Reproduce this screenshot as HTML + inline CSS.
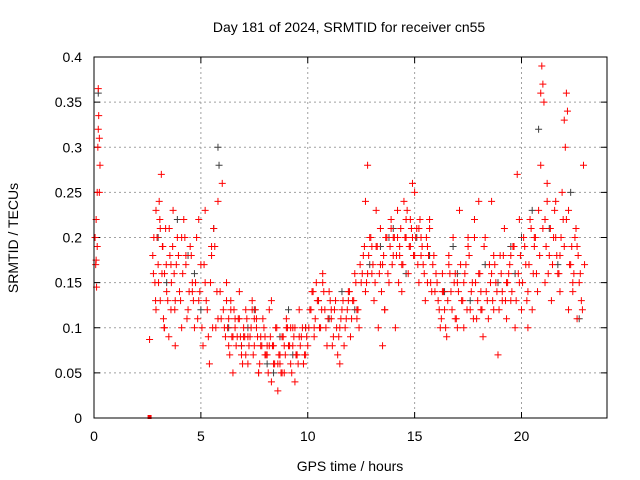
<!DOCTYPE html>
<html><head><meta charset="utf-8">
<style>
body{margin:0;background:#fff;}
svg{display:block;font-family:"Liberation Sans",sans-serif;}
</style></head>
<body>
<svg id="chart" width="640" height="480" viewBox="0 0 640 480">
<text x="349" y="32" text-anchor="middle" font-size="14">Day 181 of 2024, SRMTID for receiver cn55</text>
<text x="350" y="471" text-anchor="middle" font-size="14">GPS time / hours</text>
<text transform="translate(18,238) rotate(-90)" text-anchor="middle" font-size="14">SRMTID / TECUs</text>
<g id="grid"></g>
<g id="axes"></g>
<g id="black"></g>
<g id="red"></g>
<rect x="94" y="57" width="513" height="361" fill="none" stroke="#000" stroke-width="1"/>
</svg>
<script>
const xTicks=[0,5,10,15,20];
const yTicks=[0,0.05,0.1,0.15,0.2,0.25,0.3,0.35,0.4];
const yTickLabels=["0","0.05","0.1","0.15","0.2","0.25","0.3","0.35","0.4"];
const redT=[0.05,0.08,0.1,0.12,0.15,0.18,0.2,0.22,0.25,0.28,0.1,0.15,0.2,0.25,2.6,
2.75,2.8,2.85,2.9,3.0,3.05,3.1,3.15,3.2,3.25,3.3,3.35,3.4,3.5,3.55,3.6,3.7,3.75,3.8,3.9,4.0,4.1,4.2,4.3,4.4,4.5,4.6,4.7,4.8,4.9,5.0,5.1,5.2,5.3,5.4,5.5,5.6,5.7,5.8,5.9,6.0,2.9,3.1,3.3,3.6,3.8,4.1,4.3,4.6,4.9,5.2,5.5,5.8,
6.1,6.2,6.3,6.4,6.5,6.6,6.7,6.8,6.9,7.0,7.1,7.2,7.3,7.4,7.5,7.6,7.7,7.8,7.9,8.0,8.1,8.2,8.3,8.4,8.5,8.6,8.7,8.8,8.9,9.0,9.1,9.2,9.3,9.4,9.5,9.6,9.7,9.8,9.9,10.0,6.2,6.5,6.8,7.1,7.4,7.7,8.0,8.3,8.6,8.9,9.2,9.5,9.8,6.4,7.0,7.6,8.2,8.8,9.4,
10.1,10.2,10.3,10.4,10.5,10.6,10.7,10.8,10.9,11.0,11.1,11.2,11.3,11.4,11.5,11.6,11.7,11.8,11.9,12.0,12.1,12.2,12.3,12.4,12.5,10.3,10.7,11.1,11.5,11.9,12.3,
12.6,12.7,12.8,12.9,13.0,13.1,13.2,13.3,13.4,13.5,13.6,13.7,13.8,13.9,14.0,14.1,14.2,14.3,14.4,14.5,14.6,14.7,14.8,14.9,15.0,15.1,15.2,15.3,15.4,15.5,15.6,15.7,15.8,15.9,16.0,12.8,13.2,13.6,14.0,14.4,14.8,15.2,15.6,12.7,13.5,14.3,15.0,
16.1,16.2,16.3,16.4,16.5,16.6,16.7,16.8,16.9,17.0,17.1,17.2,17.3,17.4,17.5,17.6,17.7,17.8,17.9,18.0,18.1,18.2,18.3,18.4,18.5,18.6,18.7,18.8,18.9,19.0,19.1,19.2,19.3,19.4,19.5,19.6,19.7,19.8,19.9,20.0,16.3,16.9,17.5,18.1,18.7,19.3,19.9,17.0,18.0,19.1,
20.1,20.2,20.3,20.4,20.5,20.6,20.7,20.8,20.9,21.0,21.1,21.2,21.3,21.4,21.5,21.6,21.7,21.8,21.9,22.0,22.1,22.2,22.3,22.4,22.5,22.6,22.7,22.8,22.9,20.9,20.95,21.0,21.05,22.0,22.05,22.1,22.15,20.3,21.2,21.8,22.4,22.85];
const redV=[0.2,0.17,0.22,0.145,0.25,0.3,0.365,0.335,0.31,0.28,0.175,0.19,0.32,0.25,0.087,
0.18,0.2,0.15,0.23,0.17,0.24,0.13,0.27,0.19,0.11,0.16,0.21,0.14,0.09,0.18,0.12,0.23,0.16,0.08,0.2,0.14,0.1,0.22,0.17,0.12,0.19,0.15,0.1,0.2,0.13,0.17,0.08,0.23,0.12,0.06,0.18,0.21,0.1,0.24,0.14,0.26,0.12,0.21,0.1,0.17,0.13,0.2,0.18,0.14,0.22,0.15,0.19,0.11,
0.1,0.13,0.08,0.12,0.05,0.11,0.09,0.14,0.07,0.1,0.12,0.06,0.09,0.13,0.08,0.1,0.05,0.09,0.11,0.07,0.08,0.12,0.04,0.06,0.1,0.03,0.07,0.09,0.05,0.11,0.08,0.06,0.1,0.04,0.07,0.12,0.09,0.06,0.1,0.08,0.15,0.09,0.11,0.07,0.12,0.05,0.09,0.13,0.06,0.08,0.1,0.07,0.06,0.13,0.09,0.11,0.08,0.05,0.1,
0.12,0.14,0.09,0.15,0.13,0.1,0.16,0.12,0.08,0.14,0.11,0.09,0.13,0.07,0.1,0.12,0.08,0.11,0.14,0.09,0.13,0.16,0.12,0.1,0.15,0.1,0.15,0.12,0.06,0.13,0.11,
0.18,0.14,0.28,0.2,0.16,0.13,0.19,0.1,0.21,0.17,0.12,0.2,0.15,0.22,0.18,0.1,0.23,0.19,0.14,0.24,0.2,0.16,0.22,0.26,0.18,0.21,0.15,0.2,0.17,0.13,0.19,0.22,0.14,0.18,0.16,0.16,0.23,0.12,0.2,0.17,0.19,0.21,0.15,0.24,0.08,0.18,0.25,
0.13,0.1,0.16,0.12,0.09,0.18,0.14,0.2,0.11,0.15,0.23,0.13,0.1,0.17,0.19,0.12,0.15,0.22,0.11,0.16,0.14,0.09,0.2,0.13,0.17,0.24,0.12,0.15,0.07,0.18,0.14,0.21,0.11,0.16,0.13,0.19,0.1,0.27,0.15,0.12,0.14,0.16,0.2,0.12,0.18,0.15,0.22,0.1,0.24,0.13,
0.2,0.17,0.14,0.22,0.12,0.19,0.16,0.23,0.28,0.21,0.15,0.26,0.18,0.13,0.2,0.24,0.16,0.14,0.25,0.19,0.22,0.12,0.17,0.14,0.2,0.11,0.15,0.13,0.28,0.36,0.39,0.37,0.35,0.33,0.3,0.36,0.34,0.1,0.24,0.18,0.15,0.12];
const redT2=[2.78,2.88,2.95,3.02,3.08,3.18,3.22,3.28,3.38,3.45,3.52,3.62,3.68,3.78,3.85,3.95,4.05,4.15,4.25,4.35,4.45,4.55,4.65,4.75,4.85,4.95,5.05,5.15,5.25,5.35,5.45,5.55,5.65,5.75,5.95,
6.05,6.15,6.25,6.35,6.45,6.55,6.65,6.75,6.85,6.95,7.05,7.15,7.25,7.35,7.45,7.55,7.65,7.75,7.85,7.95,8.05,8.15,8.25,8.35,8.45,8.55,8.65,8.75,8.85,8.95,9.05,9.15,9.25,9.35,9.45,9.55,9.65,9.75,9.85,9.95,
6.3,6.6,6.9,7.2,7.5,7.8,8.1,8.4,8.7,9.0,9.3,9.6,9.9,
10.05,10.15,10.25,10.35,10.45,10.55,10.65,10.75,10.85,10.95,11.05,11.15,11.25,11.35,11.45,11.55,11.65,11.75,11.85,11.95,12.05,12.15,12.25,12.35,12.45,
12.55,12.65,12.75,12.85,12.95,13.05,13.15,13.25,13.35,13.45,13.55,13.65,13.75,13.85,13.95,14.05,14.15,14.25,14.35,14.45,14.55,14.65,14.75,14.85,14.95,15.05,15.15,15.25,15.35,15.45,15.55,15.65,15.75,15.85,15.95,
16.05,16.15,16.25,16.35,16.45,16.55,16.65,16.75,16.85,16.95,17.05,17.15,17.25,17.35,17.45,17.55,17.65,17.75,17.85,17.95,18.05,18.15,18.25,18.35,18.45,18.55,18.65,18.75,18.85,18.95,19.05,19.15,19.25,19.35,19.45,19.55,19.65,19.75,19.85,19.95,
20.05,20.15,20.25,20.35,20.45,20.55,20.65,20.75,20.85,21.15,21.25,21.35,21.45,21.55,21.65,21.75,21.85,21.95,22.25,22.35,22.45,22.55,22.65,22.75,22.95,
13.0,13.4,13.9,14.2,14.6,14.9,15.3,15.7,16.6,17.3,17.8,18.6,19.5,20.6,21.1,21.6,22.2,22.6];
const redV2=[0.16,0.13,0.2,0.15,0.22,0.16,0.19,0.1,0.17,0.13,0.21,0.15,0.19,0.12,0.17,0.18,0.13,0.16,0.2,0.11,0.14,0.18,0.13,0.15,0.11,0.14,0.1,0.17,0.13,0.09,0.15,0.1,0.19,0.14,0.11,
0.12,0.09,0.1,0.07,0.09,0.12,0.08,0.11,0.09,0.06,0.09,0.11,0.08,0.1,0.07,0.12,0.09,0.06,0.08,0.1,0.07,0.05,0.09,0.08,0.06,0.1,0.07,0.05,0.09,0.07,0.1,0.08,0.05,0.09,0.07,0.06,0.08,0.1,0.07,0.09,
0.11,0.1,0.08,0.09,0.11,0.08,0.07,0.08,0.06,0.1,0.08,0.09,0.07,
0.1,0.12,0.14,0.11,0.13,0.1,0.12,0.14,0.1,0.11,0.13,0.08,0.12,0.1,0.09,0.11,0.13,0.1,0.12,0.14,0.11,0.13,0.15,0.12,0.17,
0.16,0.19,0.15,0.18,0.2,0.17,0.15,0.19,0.16,0.14,0.18,0.2,0.16,0.19,0.17,0.2,0.18,0.15,0.21,0.17,0.2,0.23,0.19,0.21,0.18,0.2,0.17,0.22,0.19,0.16,0.2,0.18,0.15,0.17,0.14,
0.15,0.12,0.11,0.14,0.1,0.13,0.16,0.12,0.15,0.11,0.14,0.17,0.13,0.16,0.12,0.18,0.14,0.11,0.15,0.13,0.16,0.12,0.19,0.14,0.11,0.15,0.13,0.17,0.14,0.12,0.16,0.18,0.13,0.15,0.17,0.14,0.19,0.13,0.16,0.18,
0.15,0.19,0.13,0.17,0.21,0.16,0.2,0.14,0.18,0.19,0.16,0.21,0.17,0.23,0.18,0.16,0.2,0.22,0.17,0.19,0.16,0.21,0.18,0.16,0.17,
0.19,0.17,0.21,0.2,0.22,0.2,0.18,0.21,0.17,0.15,0.2,0.16,0.18,0.2,0.22,0.2,0.23,0.19];
const blackT=[0.2,3.0,3.4,3.9,4.4,5.0,5.6,5.8,5.85,6.3,6.9,7.5,8.1,8.7,9.3,9.9,10.5,11.0,11.6,12.2,12.9,13.4,14.0,14.6,15.1,15.7,16.4,17.0,17.6,18.3,18.9,19.5,20.0,20.5,20.8,21.3,21.7,22.3,22.7,4.7,7.2,8.4,9.1,13.8,16.8,19.7];
const blackV=[0.36,0.2,0.15,0.22,0.18,0.12,0.21,0.3,0.28,0.1,0.08,0.12,0.06,0.09,0.07,0.1,0.13,0.11,0.14,0.12,0.17,0.19,0.21,0.16,0.2,0.18,0.14,0.16,0.13,0.17,0.15,0.19,0.2,0.23,0.32,0.21,0.17,0.25,0.11,0.16,0.1,0.05,0.12,0.2,0.19,0.16];
const X0=94,X1=607,Y0=418,Y1=57,XMAX=24,YMAX=0.4;
function xs(t){return X0+(X1-X0)*t/XMAX;}
function ys(v){return Y0-(Y0-Y1)*v/YMAX;}
const NS="http://www.w3.org/2000/svg";
function mk(tag,attrs,parent){const e=document.createElementNS(NS,tag);for(const k in attrs)e.setAttribute(k,attrs[k]);parent.appendChild(e);return e;}
const grid=document.getElementById('grid'),axes=document.getElementById('axes');
xTicks.forEach(t=>{const x=xs(t);
 if(t>0){const g=mk('line',{x1:x,x2:x,y1:Y1,y2:Y0,stroke:'#a0a0a0','stroke-dasharray':'2,3'},grid);
 
 }
 const l=mk('text',{x:x,y:Y0+23,'text-anchor':'middle','font-size':14},axes);l.textContent=t;
 
 
 mk('line',{x1:x,x2:x,y1:Y0,y2:Y0-6,stroke:'#000'},axes);mk('line',{x1:x,x2:x,y1:Y1,y2:Y1+6,stroke:'#000'},axes);});
yTicks.forEach((v,i)=>{const y=ys(v);
 if(v>0&&v<YMAX){const g=mk('line',{x1:X0,x2:X1,y1:y,y2:y,stroke:'#a0a0a0','stroke-dasharray':'2,3'},grid);
 
 }
 const l=mk('text',{x:X0-12,y:y+5,'text-anchor':'end','font-size':14},axes);l.textContent=yTickLabels[i];
 
 
 mk('line',{x1:X0,x2:X0+6,y1:y,y2:y,stroke:'#000'},axes);mk('line',{x1:X1,x2:X1-6,y1:y,y2:y,stroke:'#000'},axes);});
function plus(parent,t,v,color,name){const x=xs(t),y=ys(v);
 const p=mk('path',{d:`M${x-3.5},${y}h7M${x},${y-3.5}v7`,stroke:color,'stroke-width':1},parent);
 
 }
const bg=document.getElementById('black');
blackT.forEach((t,i)=>plus(bg,t,blackV[i],'#404040','black-point'));
const rg=document.getElementById('red');
redT.forEach((t,i)=>plus(rg,t,redV[i],'#ff0000','red-point'));
redT2.forEach((t,i)=>plus(rg,t,redV2[i],'#ff0000','red-point'));
const sq=mk('rect',{x:xs(2.6)-2,y:ys(0)-3,width:4,height:4,fill:'#ff0000'},rg);


</script>
</body></html>
